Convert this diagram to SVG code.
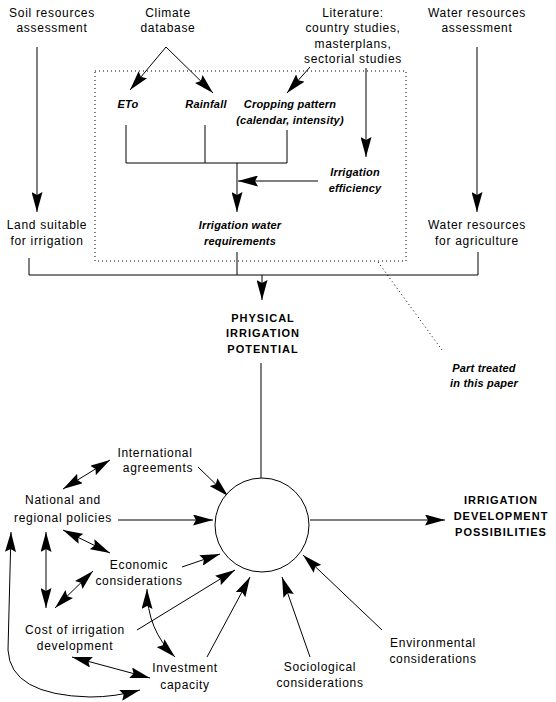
<svg xmlns="http://www.w3.org/2000/svg" width="556" height="702" viewBox="0 0 556 702">
<style>
text{font-family:"Liberation Sans",Arial,sans-serif;font-size:12px;letter-spacing:0.7px;fill:#000;text-anchor:middle}
.bi{font-weight:bold;font-style:italic;font-size:11px;letter-spacing:0.2px}
.b{font-weight:bold;font-size:11px;letter-spacing:1px}
.c{fill:none;stroke:#000;stroke-width:1}
.dot{fill:none;stroke:#000;stroke-width:1;stroke-dasharray:1 3}
</style>
<defs>
<marker id="ah" markerUnits="userSpaceOnUse" markerWidth="20" markerHeight="11" refX="20" refY="5.5" orient="auto-start-reverse">
<path d="M0,0 L20,5.5 L0,11 L3,5.5 z" fill="#000"/>
</marker>
</defs>
<rect x="0" y="0" width="556" height="702" fill="#fff"/>
<g id="connectors">
<rect class="dot" x="95" y="71" width="311" height="190"/>
<path class="c" d="M37,47 V212" marker-end="url(#ah)"/>
<path class="c" d="M166,47 L130,90" marker-end="url(#ah)"/>
<path class="c" d="M166,47 L213,93" marker-end="url(#ah)"/>
<path class="c" d="M310,67 L287,93" marker-end="url(#ah)"/>
<path class="c" d="M366,68 V157" marker-end="url(#ah)"/>
<path class="c" d="M477,47 V212" marker-end="url(#ah)"/>
<path class="c" d="M126,125 V163 H287 V130 M205,125 V163"/>
<path class="c" d="M237,163 V212" marker-end="url(#ah)"/>
<path class="c" d="M318,181 H238" marker-end="url(#ah)"/>
<path class="c" d="M237,252 V275 M29,258 V275 H478 V252"/>
<path class="c" d="M262,275 V300" marker-end="url(#ah)"/>
<path class="c" d="M261,363 V478"/>
<path class="c" d="M310,520 H445" marker-end="url(#ah)"/>
<path class="dot" d="M378,262 L442,350"/>
<path class="c" d="M110,460 L63,489" marker-start="url(#ah)" marker-end="url(#ah)"/>
<path class="c" d="M198,467 L228,496" marker-end="url(#ah)"/>
<path class="c" d="M118,520 L213,520" marker-end="url(#ah)"/>
<path class="c" d="M63,530 L110,553" marker-start="url(#ah)" marker-end="url(#ah)"/>
<path class="c" d="M182,567 L220,554" marker-end="url(#ah)"/>
<path class="c" d="M46,532 V608" marker-start="url(#ah)" marker-end="url(#ah)"/>
<path class="c" d="M93,571 L55,608" marker-start="url(#ah)" marker-end="url(#ah)"/>
<path class="c" d="M137,630 L235,570" marker-end="url(#ah)"/>
<path class="c" d="M147,589 Q147,630 175,657" marker-start="url(#ah)" marker-end="url(#ah)"/>
<path class="c" d="M72,657 L150,678" marker-start="url(#ah)" marker-end="url(#ah)"/>
<path class="c" d="M207,657 L250,577" marker-end="url(#ah)"/>
<path class="c" d="M11,532 L8,650 Q10,695 90,697 Q115,697 140,690" marker-start="url(#ah)" marker-end="url(#ah)"/>
<path class="c" d="M310,657 L282,577" marker-end="url(#ah)"/>
<path class="c" d="M382,630 L303,555" marker-end="url(#ah)"/>
</g>
<g id="soil"><text x="52" y="17">Soil resources</text><text x="52" y="32">assessment</text></g>
<g id="climate"><text x="168" y="17">Climate</text><text x="168" y="32">database</text></g>
<g id="literature"><text x="353" y="17">Literature:</text><text x="353" y="32">country studies,</text><text x="353" y="48">masterplans,</text><text x="353" y="63">sectorial studies</text></g>
<g id="water"><text x="477" y="17">Water resources</text><text x="477" y="32">assessment</text></g>
<g id="eto"><text class="bi" x="128" y="108">ETo</text></g>
<g id="rainfall"><text class="bi" x="206" y="108">Rainfall</text></g>
<g id="cropping"><text class="bi" x="290" y="108">Cropping pattern</text><text class="bi" x="290" y="124">(calendar, intensity)</text></g>
<g id="efficiency"><text class="bi" x="355" y="176">Irrigation</text><text class="bi" x="355" y="192">efficiency</text></g>
<g id="iwr"><text class="bi" x="240" y="229">Irrigation water</text><text class="bi" x="240" y="245">requirements</text></g>
<g id="land"><text x="47" y="229">Land suitable</text><text x="47" y="245">for irrigation</text></g>
<g id="wragri"><text x="477" y="229">Water resources</text><text x="477" y="245">for agriculture</text></g>
<g id="physical"><text class="b" x="263" y="322">PHYSICAL</text><text class="b" x="263" y="337">IRRIGATION</text><text class="b" x="263" y="353">POTENTIAL</text></g>
<g id="part"><text class="bi" x="484" y="372">Part treated</text><text class="bi" x="484" y="387">in this paper</text></g>
<g id="hub"><circle cx="262" cy="525" r="47" fill="#fff" stroke="#000" stroke-width="1"/></g>
<g id="possibilities"><text class="b" x="501" y="504">IRRIGATION</text><text class="b" x="501" y="520">DEVELOPMENT</text><text class="b" x="501" y="536">POSSIBILITIES</text></g>
<g id="international"><text x="155" y="457">International</text><text x="158" y="472">agreements</text></g>
<g id="national"><text x="63" y="504">National and</text><text x="63" y="522">regional policies</text></g>
<g id="economic"><text x="139" y="569">Economic</text><text x="139" y="585">considerations</text></g>
<g id="cost"><text x="75" y="634">Cost of irrigation</text><text x="75" y="650">development</text></g>
<g id="investment"><text x="185" y="672">Investment</text><text x="185" y="689">capacity</text></g>
<g id="sociological"><text x="320" y="671">Sociological</text><text x="320" y="687">considerations</text></g>
<g id="environmental"><text x="433" y="647">Environmental</text><text x="433" y="663">considerations</text></g>
</svg>
